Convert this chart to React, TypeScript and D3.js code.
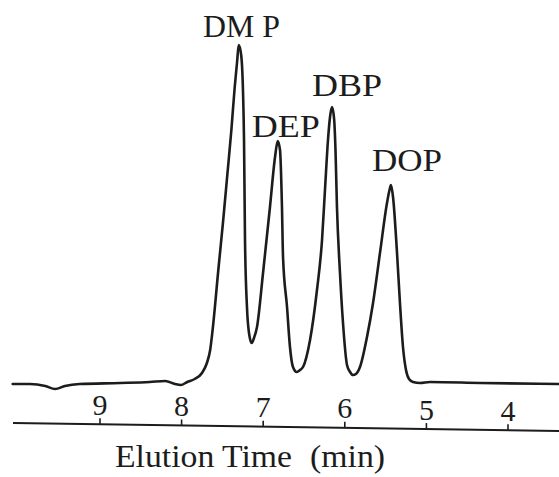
import React from "react";
import * as d3 from "d3";

// Chromatogram trace: elution time (min) and detector response (a.u.)
const TIME_MIN = [
  10.07, 9.86, 9.67, 9.55, 9.43, 9.25, 8.75, 8.39, 8.2, 8.08, 8.01, 7.93, 7.84, 7.75, 7.69, 7.65,
  7.62, 7.55, 7.49, 7.44, 7.39, 7.35, 7.32, 7.3, 7.27, 7.248, 7.235, 7.223, 7.199, 7.174, 7.141,
  7.113, 7.076, 7.002, 6.917, 6.855, 6.822, 6.794, 6.77, 6.757, 6.708, 6.672, 6.635, 6.589,
  6.549, 6.512, 6.426, 6.341, 6.279, 6.243, 6.206, 6.181, 6.157, 6.132, 6.114, 6.096, 6.059,
  6.022, 5.973, 5.936, 5.9,
  5.863, 5.814, 5.728, 5.654, 5.569, 5.483, 5.452, 5.434, 5.409, 5.36, 5.324, 5.287, 5.25,
  5.213, 5.164, 5.078, 4.956, 4.343, 3.375,
];
const RESPONSE = [
  0, 0, -2, -5, -2, 0, 1, 2, 3, 0, -1, 2, 5, 11, 21, 34,
  54, 114, 164, 209, 254, 296, 322, 339, 329, 294, 244, 144, 77, 51, 41,
  46, 57, 111, 177, 227, 243, 234, 177, 127, 77, 37, 17, 12,
  14, 17, 44, 94, 144, 194, 244, 267, 277, 266, 234, 177, 111,
  61, 19, 12, 9,
  10, 17, 47, 81, 131, 181, 194, 199, 187, 131, 81, 37, 14,
  5, 2, 1, 2, 1, 0,
];

const TICK_VALUES = [9, 8, 7, 6, 5, 4];
const AXIS_TITLE = "Elution Time";
const AXIS_UNIT = "(min)";
const PEAK_NAMES = ["DM P", "DEP", "DBP", "DOP"];
const PEAK_TIMES = [7.3, 6.822, 6.157, 5.434];

// layout / style
const W = 559;
const H = 477;
const LABEL_STYLE = [
  { dx: 2.8, dy: -8, w: 77 },
  { dx: 8, dy: -4, w: 68 },
  { dx: 15, dy: -11, w: 70 },
  { dx: 16, dy: -14, w: 70 },
];
const FONT = "'Liberation Serif', 'DejaVu Serif', 'Times New Roman', serif";
const INK = "#1c1c1c";

export default function App() {
  const x = d3.scaleLinear().domain([4, 9]).range([508, 100]);
  const y = d3.scaleLinear().domain([0, 340]).range([384, 44]);

  const points: [number, number][] = TIME_MIN.map((t, i) => [t, RESPONSE[i]]);
  const line = d3
    .line<[number, number]>()
    .x((d) => x(d[0]))
    .y((d) => y(d[1]))
    .curve(d3.curveMonotoneX);
  const path = line(points) || "";

  const axisX0 = 13;
  const axisX1 = W;
  const axisY = (px: number) => 423 + ((px - axisX0) * 8) / (axisX1 - axisX0);

  const peakResp = (t: number) => {
    let best = 0;
    let bd = Infinity;
    TIME_MIN.forEach((tt, i) => {
      const d = Math.abs(tt - t);
      if (d < bd) {
        bd = d;
        best = i;
      }
    });
    return RESPONSE[best];
  };

  return (
    <svg
      width={W}
      height={H}
      viewBox={`0 0 ${W} ${H}`}
      style={{ position: "absolute", left: 0, top: 0, background: "#fff" }}
    >
      <rect x={0} y={0} width={W} height={H} fill="#fff" />
      <path d={path} fill="none" stroke={INK} strokeWidth={2.6} strokeLinejoin="round" strokeLinecap="round" />

      {/* axis */}
      <line x1={axisX0} y1={axisY(axisX0)} x2={axisX1} y2={axisY(axisX1)} stroke={INK} strokeWidth={2} />
      {TICK_VALUES.map((v) => {
        const px = x(v);
        const ay = axisY(px);
        return (
          <g key={v}>
            <line x1={px} x2={px} y1={ay} y2={ay - 6} stroke={INK} strokeWidth={1.6} />
            <text
              x={px}
              y={ay - 9.5}
              textAnchor="middle"
              fontFamily={FONT}
              fontSize={30}
              fill={INK}
            >
              {v}
            </text>
          </g>
        );
      })}

      <text x={115} y={467} fontFamily={FONT} fontSize={32} fill={INK} textLength={177} lengthAdjust="spacingAndGlyphs">
        {AXIS_TITLE}
      </text>
      <text x={310} y={467} fontFamily={FONT} fontSize={32} fill={INK} textLength={75} lengthAdjust="spacingAndGlyphs">
        {AXIS_UNIT}
      </text>

      {PEAK_NAMES.map((name, i) => {
        const s = LABEL_STYLE[i];
        const cx = x(PEAK_TIMES[i]) + s.dx;
        const by = y(peakResp(PEAK_TIMES[i])) + s.dy;
        return (
          <text
            key={name}
            x={cx - s.w / 2}
            y={by}
            fontFamily={FONT}
            fontSize={32}
            fill={INK}
            textLength={s.w}
            lengthAdjust="spacingAndGlyphs"
          >
            {name}
          </text>
        );
      })}
    </svg>
  );
}
